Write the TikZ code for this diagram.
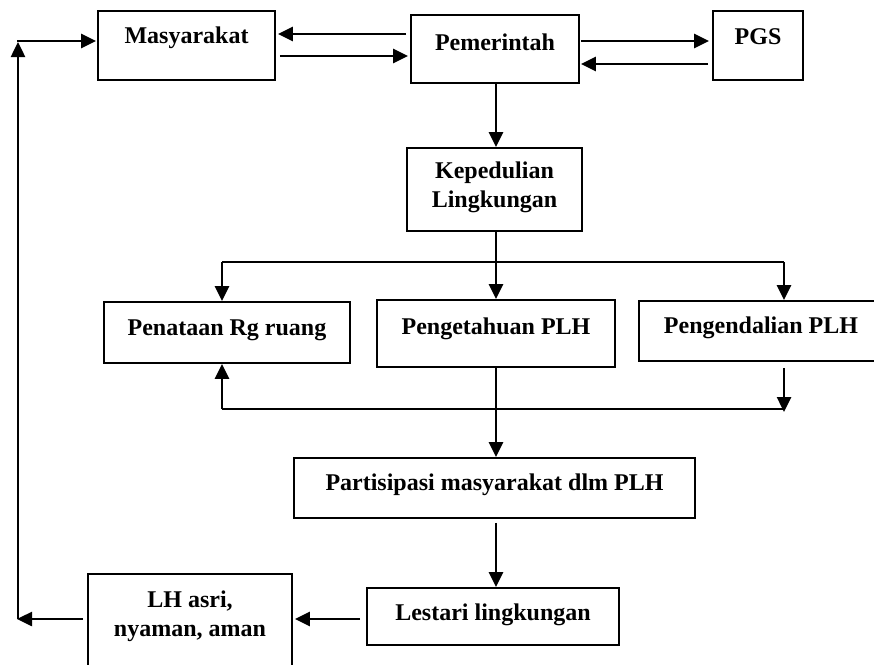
\documentclass[tikz,border=0pt]{standalone}
\usepackage{fontspec}
\setmainfont{Liberation Serif}
\usetikzlibrary{arrows.meta}
\begin{document}
\begin{tikzpicture}[x=1pt,y=-1pt,
  box/.style={draw,line width=1.8pt,rectangle,inner sep=0pt},
  lbl/.style={font=\fontsize{24}{29}\selectfont\bfseries,align=center,inner sep=0pt},
  arr/.style={line width=2.5pt,-{Triangle[length=15pt,width=14pt]}},
  ln/.style={line width=2.5pt}]
\useasboundingbox (0,0) rectangle (874,664);
% boxes
\node[box,minimum width=177pt,minimum height=69pt] (mas) at (186.5,45.5) {};
\node[box,minimum width=168pt,minimum height=68pt] (pem) at (495,49) {};
\node[box,minimum width=90pt,minimum height=69pt] (pgs) at (758,45.5) {};
\node[box,minimum width=175pt,minimum height=83pt] (kep) at (494.5,189.5) {};
\node[box,minimum width=246pt,minimum height=61pt] (pen) at (227,332.5) {};
\node[box,minimum width=238pt,minimum height=67pt] (pgt) at (496,333.5) {};
\node[box,minimum width=250pt,minimum height=60pt] (pgd) at (764,331) {};
\node[box,minimum width=401pt,minimum height=60pt] (par) at (494.5,488) {};
\node[box,minimum width=252pt,minimum height=57pt] (les) at (493,616.5) {};
\node[box,minimum width=204pt,minimum height=110pt] (lh) at (190,629) {};
% texts
\node[lbl] (tmas) at (186.5,38) {Masyarakat};
\node[lbl] (tpem) at (495,42) {Pemerintah};
\node[lbl] (tpgs) at (758,37) {PGS};
\node[lbl] (tkep) at (494.5,187.5) {Kepedulian\\Lingkungan};
\node[lbl] (tpen) at (227,330) {Penataan Rg ruang};
\node[lbl] (tpgt) at (496,329) {Pengetahuan PLH};
\node[lbl] (tpgd) at (761,328) {Pengendalian PLH};
\node[lbl] (tpar) at (494.5,485) {Partisipasi masyarakat dlm PLH};
\node[lbl] (tles) at (493,615) {Lestari lingkungan};
\node[lbl] (tlh) at (190,616) {LH asri,\\nyaman, aman};
% coordinates
\coordinate (ya) at (0,34);
\coordinate (yb) at (0,56);
\coordinate (yc) at (0,41);
\coordinate (yd) at (0,64);
\coordinate (br) at (496,262);
\coordinate (brl) at (222,262);
\coordinate (brr) at (784,262);
\coordinate (rb) at (784,409);
\coordinate (lb) at (222,409);
\coordinate (ll) at (18,619);
\coordinate (lt) at (18,41);
% top row arrows
\draw[arr] ([xshift=-4pt]pem.west|-ya) -- ([xshift=2pt]mas.east|-ya);
\draw[arr] ([xshift=4pt]mas.east|-yb) -- ([xshift=-2pt]pem.west|-yb);
\draw[arr] ([xshift=1pt]pem.east|-yc) -- ([xshift=-3pt]pgs.west|-yc);
\draw[arr] ([xshift=-4pt]pgs.west|-yd) -- ([xshift=1pt]pem.east|-yd);
% down
\draw[arr] (pem.south-|br) -- (kep.north-|br);
\draw[ln] (kep.south-|br) -- (br);
\draw[ln] (brl) -- (brr);
\draw[arr] (brl) -- (brl|-pen.north);
\draw[arr] (br) -- (br|-pgt.north);
\draw[arr] (brr) -- (brr|-pgd.north);
% return loop
\draw[arr] ([yshift=-6pt]pgd.south-|rb) -- ([yshift=-3pt]rb);
\draw[ln] (rb) -- (lb);
\draw[arr] (lb) -- (lb|-pen.south);
% lower chain
\draw[arr] (pgt.south-|br) -- (par.north-|br);
\draw[arr] ([yshift=-4pt]par.south-|br) -- (les.north-|br);
\draw[arr] ([xshift=-6pt]les.west|-ll) -- ([xshift=2pt]lh.east|-ll);
\draw[arr] ([xshift=-4pt]lh.west|-ll) -- ([xshift=-1pt]ll);
\draw[arr] (ll) -- ([yshift=-1pt]lt);
\draw[arr] ([xshift=-1.25pt]lt) -- ([xshift=-1pt]mas.west|-lt);
\end{tikzpicture}
\end{document}
